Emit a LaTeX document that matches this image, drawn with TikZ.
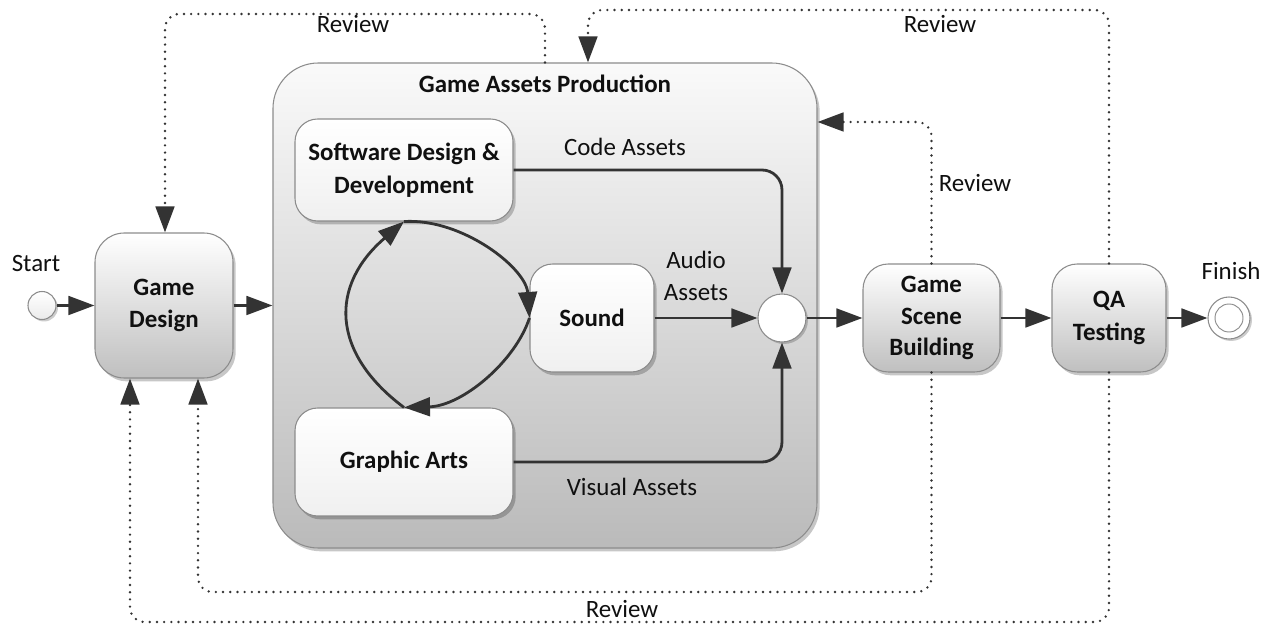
\documentclass[tikz,border=0pt]{standalone}
\usepackage{fontspec}
\setmainfont{Carlito}
\usetikzlibrary{arrows.meta,shadows,calc}
\definecolor{linec}{HTML}{333333}
\definecolor{bord}{HTML}{8C8C8C}
\definecolor{txt}{HTML}{101010}
\begin{document}
\begin{tikzpicture}[x=0.75pt,y=-0.75pt,
  every node/.style={text=txt},
  lbl/.style={font=\fontsize{18.7}{24.5}\selectfont,align=center},
  flow/.style={draw=linec,line width=2.1pt,-{Triangle[length=19.5pt,width=14pt]}},
  rev/.style={draw=linec,line width=2pt,line cap=round,dash pattern=on 0pt off 5.4pt,rounded corners=11pt,-{Triangle[length=19.5pt,width=14pt]}},
  proc/.style={draw=bord,line width=0.8pt,rounded corners=22pt,top color=white,bottom color=black!25,inner sep=0pt,align=center,font=\fontsize{18.7}{24.5}\selectfont\bfseries,drop shadow={shadow xshift=2pt,shadow yshift=-2.5pt,opacity=0.22,fill=black}},
  subp/.style={proc,rounded corners=17pt,top color=white,bottom color=black!6},
  evt/.style={circle,draw=bord,line width=0.8pt,inner sep=0pt,top color=white,bottom color=black!8,drop shadow={shadow xshift=1.5pt,shadow yshift=-1.5pt,opacity=0.2,fill=black}}
]
\useasboundingbox (0,0) rectangle (1265,630);

% containers and nodes
\node[proc,rounded corners=34pt,minimum width=408pt,minimum height=363.75pt,top color=black!2,bottom color=black!27] (big) at (545,305.5) {};
\node[font=\fontsize{18.7}{24.5}\selectfont\bfseries] (title) at (545,84) {Game Assets Production};

\node[proc,minimum width=103.5pt,minimum height=108.75pt] (gd) at (164,305.5) {Game\\Design};
\node[subp,minimum width=163.5pt,minimum height=76.5pt] (sd) at (404,170) {Software Design \&\\Development};
\node[subp,minimum width=93pt,minimum height=81pt] (sound) at (592,318) {Sound};
\node[subp,minimum width=163.5pt,minimum height=81pt] (ga) at (404,462) {Graphic Arts};
\node[evt,top color=white,bottom color=white,minimum size=36pt] (junc) at (782,318) {};
\node[proc,minimum width=102.75pt,minimum height=81pt,rounded corners=19pt] (gsb) at (931.5,318) {Game\\[-1pt]Scene\\[-1pt]Building};
\node[proc,minimum width=85.5pt,minimum height=81pt,rounded corners=19pt] (qa) at (1109,318) {QA\\Testing};
\node[evt,minimum size=21pt] (start) at (42,305.5) {};
\node[evt,top color=white,bottom color=white,minimum size=31.5pt] (finish) at (1229,318) {};
\node[circle,draw=bord,line width=0.7pt,minimum size=21pt,inner sep=0pt] (finin) at (finish) {};

\node[lbl] (tstart) at (36,264) {Start};
\node[lbl] (tfinish) at (1231,271) {Finish};

% solid flows
\draw[flow] (start) -- (gd.west);
\draw[flow] (gd.east) -- (big.west |- gd.east);
\draw[flow,rounded corners=15pt] (sd.east) -| (junc.north);
\draw[flow] (sound.east) -- (junc.west);
\draw[flow,rounded corners=15pt] (ga.east) -| (junc.south);
\draw[flow] (junc.east) -- (gsb.west);
\draw[flow] (gsb.east) -- (qa.west);
\draw[flow] (qa.east) -- (finish.west);

\node[lbl] (lcode) at (625,147) {Code Assets};
\node[lbl] (laudio) at (696,276) {Audio\\Assets};
\node[lbl] (lvis) at (632,487) {Visual Assets};

% cycle
\draw[flow] (ga.north) .. controls (330,352) and (330,285) .. (sd.south);
\draw[flow] (sd.south) .. controls (462,218) and (526,268) .. (sound.west);
\draw[flow] (sound.west) .. controls (515,362) and (462,406) .. (ga.north);

% review loops
\coordinate (r1a) at (545,14);
\coordinate (r1b) at (165,14);
\draw[rev] (big.north) -- (r1a) -- (r1b) -- (gd.north -| r1b);
\node[lbl] (rv1) at (353,24) {Review};

\coordinate (r2a) at (1109,10);
\coordinate (r2b) at (588,10);
\draw[rev] (qa.north) -- (r2a) -- (r2b) -- (big.north -| r2b);
\node[lbl] (rv2) at (940,24) {Review};

\coordinate (r3a) at (931.5,122);
\draw[rev] (gsb.north) -- (r3a) -- (big.east |- r3a);
\node[lbl] (rv3) at (975,183) {Review};

\coordinate (r4a) at (931.5,592);
\coordinate (r4b) at (198,592);
\draw[rev] (gsb.south) -- (r4a) -- (r4b) -- (gd.south -| r4b);

\coordinate (r5a) at (1109,622);
\coordinate (r5b) at (130,622);
\draw[rev] (qa.south) -- (r5a) -- (r5b) -- (gd.south -| r5b);
\node[lbl] (rv5) at (622,609) {Review};
\end{tikzpicture}
\end{document}
